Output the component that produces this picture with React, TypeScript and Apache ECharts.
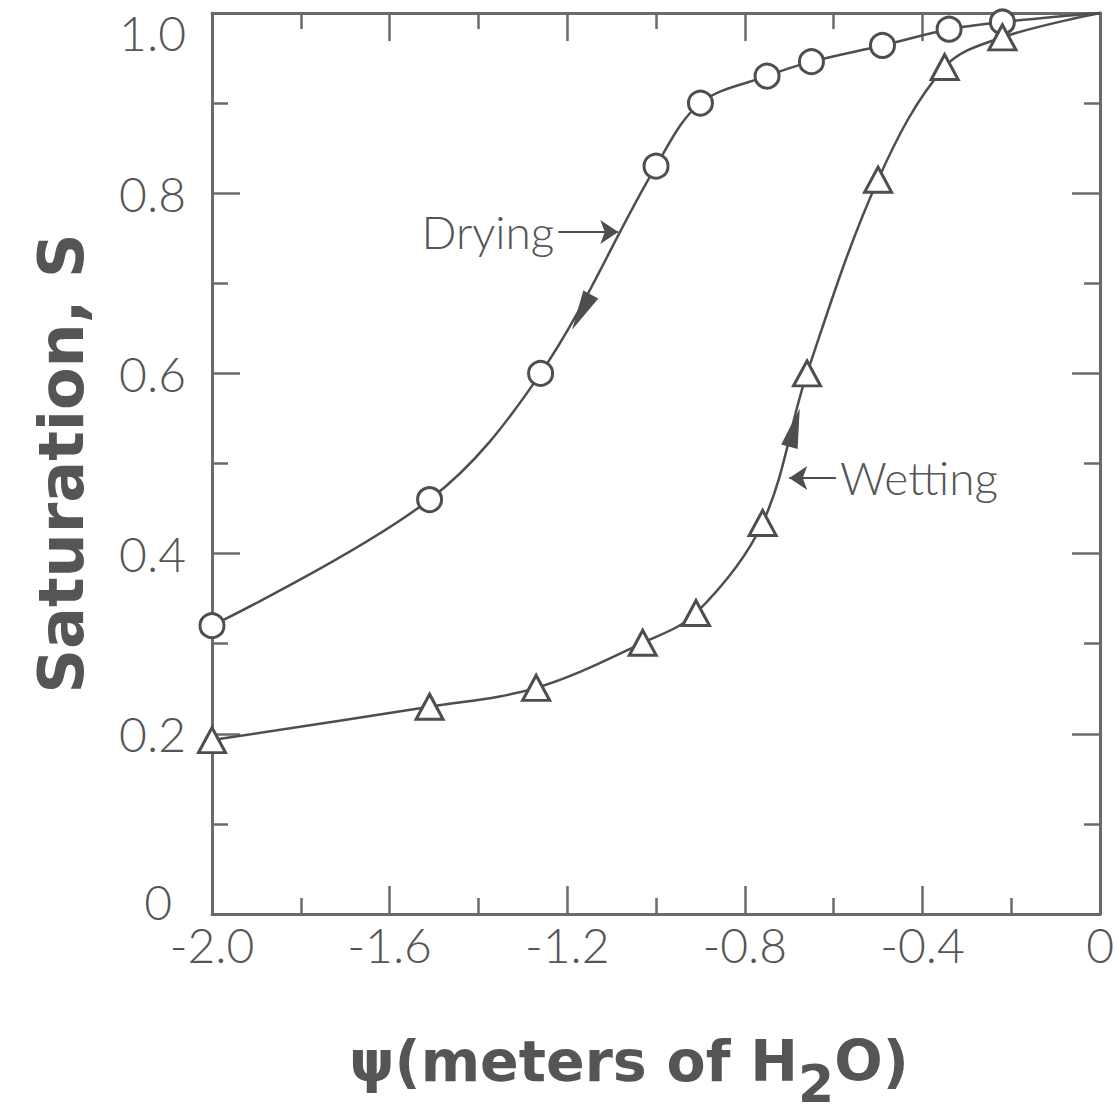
import { useEffect, useRef } from 'react';
import * as echarts from 'echarts';

// Drying curve (circles)
const dryingPsi = [-2.0, -1.51, -1.26, -1.0, -0.9, -0.75, -0.65, -0.49, -0.34, -0.22];
const dryingS = [0.32, 0.46, 0.6, 0.83, 0.9, 0.93, 0.946, 0.964, 0.982, 0.99];
// Wetting curve (triangles)
const wettingPsi = [-2.0, -1.51, -1.27, -1.03, -0.91, -0.76, -0.66, -0.5, -0.35, -0.22];
const wettingS = [0.193, 0.23, 0.251, 0.301, 0.334, 0.434, 0.6, 0.815, 0.94, 0.973];
// both curves run on to full saturation at psi = 0
const curveEnd = [0, 1.0];

// axis ranges / ticks
const xRange = [-2.0, 0];
const xStep = 0.4;
const yRange = [0, 1.0];
const yStep = 0.2;

// annotations
const dryingLabel = 'Drying';
const dryingLabelArrow = [[-1.22, 0.757], [-1.085, 0.757]];
const dryingDirArrow = [-1.168, 0.668];
const wettingLabel = 'Wetting';
const wettingLabelArrow = [[-0.595, 0.484], [-0.7, 0.484]];
const wettingDirArrow = [-0.688, 0.54];

const INK = '#4e4e4e';
const AXIS = '#6a6a6a';
const TEXT = '#555555';
const LIGHT_FONT = 'Lato, "DejaVu Sans", sans-serif';
const BOLD_FONT = '"DejaVu Sans", Lato, sans-serif';

const fmt = (v: number) => (Math.abs(v) < 1e-9 ? '0' : v.toFixed(1));

export default function App() {
  const ref = useRef<HTMLDivElement>(null);

  useEffect(() => {
    if (!ref.current) return;
    const chart = echarts.init(ref.current, null, { renderer: 'svg' });

    const tickCommon = {
      axisLine: { show: true, onZero: false, lineStyle: { color: AXIS, width: 3 } },
      axisTick: { show: true, inside: true, length: 28, lineStyle: { color: AXIS, width: 2.5 } },
      minorTick: { show: true, splitNumber: 2, length: 16, lineStyle: { color: AXIS, width: 2.5 } },
      splitLine: { show: false },
      minorSplitLine: { show: false },
    };

    const dryingData: any[] = dryingPsi.map((x, i) => [x, dryingS[i]]);
    dryingData.push({ value: curveEnd, symbol: 'none' });
    const wettingData: any[] = wettingPsi.map((x, i) => [x, wettingS[i]]);
    wettingData.push({ value: curveEnd, symbol: 'none' });

    const labelArrow = (pts: number[][], text: string) => ({
      silent: true,
      symbol: ['none', 'arrow'],
      symbolSize: 18,
      lineStyle: { color: INK, width: 2, type: 'solid' },
      label: {
        show: true,
        position: 'start',
        formatter: text,
        distance: 4,
        fontSize: 46,
        fontFamily: LIGHT_FONT,
        fontWeight: 300,
        color: TEXT,
      },
      emphasis: { disabled: true },
      data: [[{ coord: pts[0] }, { coord: pts[1] }]],
    });

    const dirArrow = (pt: number[], rot: number) => ({
      silent: true,
      symbol: 'triangle',
      symbolSize: [17, 40],
      symbolRotate: rot,
      itemStyle: { color: INK },
      label: { show: false },
      data: [{ coord: pt }],
    });

    const yLabelFmt = (v: number) => {
      if (Math.abs(v) < 1e-9) return '{z|0}';
      if (Math.abs(v - 1) < 1e-9) return '{m|1.0}';
      return fmt(v);
    };
    const labelFont = { fontSize: 48, fontFamily: LIGHT_FONT, fontWeight: 300, color: TEXT };

    chart.setOption({
      animation: false,
      backgroundColor: '#ffffff',
      grid: { left: 212, right: 14, top: 13, bottom: 203, containLabel: false },
      xAxis: [
        {
          type: 'value',
          position: 'bottom',
          min: xRange[0],
          max: xRange[1],
          interval: xStep,
          ...tickCommon,
          axisLabel: { show: true, margin: 6, formatter: fmt, ...labelFont },
          name: '{t|ψ(meters of H}{s|2}{t|O)}',
          nameLocation: 'middle',
          nameGap: 118,
          nameTextStyle: {
            padding: [0, 54, 0, 0],
            rich: {
              t: { fontSize: 57, fontWeight: 'bold', fontFamily: BOLD_FONT, color: TEXT, lineHeight: 70, verticalAlign: 'top' },
              s: { fontSize: 52, fontWeight: 'bold', fontFamily: BOLD_FONT, color: TEXT, lineHeight: 78, verticalAlign: 'bottom' },
            },
          },
        },
        {
          type: 'value',
          position: 'top',
          min: xRange[0],
          max: xRange[1],
          interval: xStep,
          ...tickCommon,
          axisLabel: { show: false },
        },
      ],
      yAxis: [
        {
          type: 'value',
          position: 'left',
          min: yRange[0],
          max: yRange[1],
          interval: yStep,
          ...tickCommon,
          axisLabel: {
            show: true,
            margin: 26,
            formatter: yLabelFmt,
            ...labelFont,
            verticalAlignMaxLabel: 'top',
            verticalAlignMinLabel: 'bottom',
            rich: {
              z: { ...labelFont, lineHeight: 26, padding: [0, 14, 0, 0] },
              m: { ...labelFont, lineHeight: 38 },
            },
          },
          name: 'Saturation, S',
          nameLocation: 'middle',
          nameGap: 120,
          nameTextStyle: { fontSize: 62, fontWeight: 'bold', fontFamily: BOLD_FONT, color: TEXT },
        },
        {
          type: 'value',
          position: 'right',
          min: yRange[0],
          max: yRange[1],
          interval: yStep,
          ...tickCommon,
          axisLabel: { show: false },
        },
      ],
      series: [
        {
          name: 'Drying',
          type: 'line',
          xAxisIndex: 0,
          yAxisIndex: 0,
          data: dryingData,
          smooth: 0.35,
          clip: false,
          symbol: 'circle',
          symbolSize: 24,
          showAllSymbol: true,
          lineStyle: { color: INK, width: 2.5 },
          itemStyle: { color: '#ffffff', borderColor: INK, borderWidth: 3 },
          emphasis: { disabled: true },
          markLine: labelArrow(dryingLabelArrow, dryingLabel),
          markPoint: dirArrow(dryingDirArrow, 152),
          z: 3,
        },
        {
          name: 'Wetting',
          type: 'line',
          xAxisIndex: 0,
          yAxisIndex: 0,
          data: wettingData,
          smooth: 0.35,
          clip: false,
          symbol: 'triangle',
          symbolSize: [27, 25],
          showAllSymbol: true,
          lineStyle: { color: INK, width: 2.5 },
          itemStyle: { color: '#ffffff', borderColor: INK, borderWidth: 3 },
          emphasis: { disabled: true },
          markLine: labelArrow(wettingLabelArrow, wettingLabel),
          markPoint: dirArrow(wettingDirArrow, -15),
          z: 3,
        },
      ],
    });

    return () => chart.dispose();
  }, []);

  return (
    <div
      ref={ref}
      style={{ position: 'fixed', left: 0, top: 0, width: 1117, height: 1117, background: '#fff' }}
    />
  );
}
